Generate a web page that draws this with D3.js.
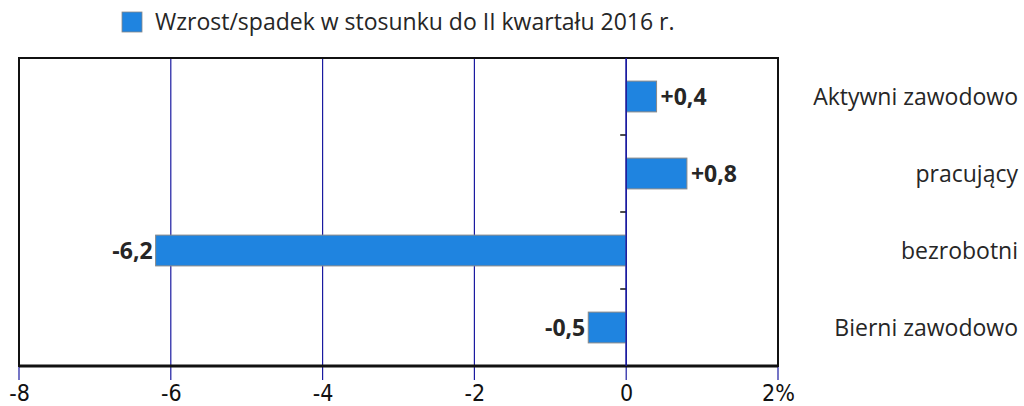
<!DOCTYPE html>
<html><head><meta charset="utf-8">
<script src="https://cdn.jsdelivr.net/npm/d3@7"></script>
<style>body{margin:0;background:#fff}svg{display:block}</style>
</head><body><svg id="c" width="1024" height="406"></svg>
<script>
const categories = ["Aktywni zawodowo", "pracujący", "bezrobotni", "Bierni zawodowo"];
const values = [0.4, 0.8, -6.2, -0.5];
const valueLabels = ["+0,4", "+0,8", "-6,2", "-0,5"];
const tickValues = [-8, -6, -4, -2, 0, 2];
const tickLabels = ["-8", "-6", "-4", "-2", "0", "2%"];
const legendLabel = "Wzrost/spadek w stosunku do II kwartału 2016 r.";

const svg = d3.select("#c");
const L = 19, R = 778, T = 58, B = 366;
const x = d3.scaleLinear().domain([-8, 2]).range([L, R]);
const y = d3.scaleBand().domain(categories).range([T, B]).paddingInner(0.6).paddingOuter(0.3);
const barColor = "#1f84e0";
const gridColor = "#1a1aa0";
const textFont = "'Open Sans', 'Noto Sans', sans-serif";

// gridlines
svg.append("g").selectAll("line").data(tickValues).join("line")
  .attr("x1", d => x(d)).attr("x2", d => x(d))
  .attr("y1", T).attr("y2", B + 14)
  .attr("stroke", gridColor).attr("stroke-width", 1.2);

// frame
svg.append("rect").attr("x", L).attr("y", T).attr("width", R - L).attr("height", B - T)
  .attr("fill", "none").attr("stroke", "#111").attr("stroke-width", 2);
svg.append("line").attr("x1", L).attr("x2", R).attr("y1", B).attr("y2", B)
  .attr("stroke", "#111").attr("stroke-width", 3);

// category separator ticks on zero axis
const bw = y.step();
const seps = categories.slice(1).map((c) => y(c) - (bw - y.bandwidth()) / 2);
svg.append("g").selectAll("line").data(seps).join("line")
  .attr("x1", x(0) - 6).attr("x2", x(0)).attr("y1", d => d).attr("y2", d => d)
  .attr("stroke", "#111").attr("stroke-width", 1.5);

// bars
svg.append("g").selectAll("rect").data(values).join("rect")
  .attr("x", d => x(Math.min(0, d)))
  .attr("y", (d, i) => y(categories[i]))
  .attr("width", d => Math.abs(x(d) - x(0)))
  .attr("height", y.bandwidth())
  .attr("fill", barColor).attr("stroke", "#888").attr("stroke-width", 1);

// zero line on top
svg.append("line").attr("x1", x(0)).attr("x2", x(0)).attr("y1", T).attr("y2", B)
  .attr("stroke", gridColor).attr("stroke-width", 1.5);

// value labels
svg.append("g").selectAll("text").data(values).join("text")
  .attr("x", d => d >= 0 ? x(d) + 4 : x(d) - 3)
  .attr("y", (d, i) => y(categories[i]) + y.bandwidth() / 2)
  .attr("dy", "0.36em")
  .attr("text-anchor", d => d >= 0 ? "start" : "end")
  .attr("font-family", textFont).attr("font-weight", "bold").attr("font-size", 23)
  .attr("fill", "#262626")
  .text((d, i) => valueLabels[i]);

// category labels on right
svg.append("g").selectAll("text").data(categories).join("text")
  .attr("x", 1018)
  .attr("y", d => y(d) + y.bandwidth() / 2)
  .attr("dy", "0.36em")
  .attr("text-anchor", "end")
  .attr("font-family", textFont).attr("font-size", 23).attr("fill", "#262626")
  .text(d => d);

// x axis labels
const xAxis = d3.axisBottom(x).tickValues(tickValues).tickSize(0)
  .tickFormat((d, i) => tickLabels[i]);
const ax = svg.append("g").attr("transform", `translate(0,${B + 15})`).call(xAxis);
ax.select(".domain").remove();
ax.selectAll("text").attr("font-family", "'DejaVu Sans Condensed', 'Liberation Sans Narrow', sans-serif")
  .attr("font-size", 23).attr("fill", "#111").attr("dy", "0.75em");

// legend
svg.append("rect").attr("x", 122).attr("y", 12).attr("width", 20).attr("height", 20)
  .attr("fill", barColor).attr("stroke", "#888").attr("stroke-width", 0.8);
svg.append("text").attr("x", 155).attr("y", 22).attr("dy", "0.36em")
  .attr("font-family", textFont).attr("font-size", 23).attr("fill", "#262626")
  .text(legendLabel);
</script></body></html>
